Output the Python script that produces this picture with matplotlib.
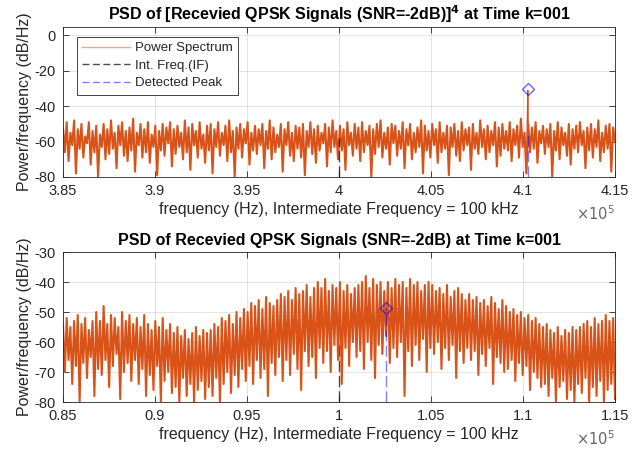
"""
Two-panel PSD view of a received QPSK signal (SNR = -2 dB) at time k = 001:
top is the spectrum of the signal raised to the 4th power, bottom is the raw one.
"""

import numpy as np
import matplotlib.pyplot as plt
from matplotlib.lines import Line2D
from matplotlib.ticker import FuncFormatter, MultipleLocator

plt.rcParams["font.family"] = ["Liberation Sans", "DejaVu Sans"]
plt.rcParams["axes.unicode_minus"] = False

# ── Data ─────────────────────────────────────────────────────────────────────

# PSD of [signal]^4, 3.85e5 .. 4.15e5 Hz, dB/Hz
TOP_DB = [
    -52, -66, -49, -71, -55, -62, -48, -78, -53, -64, -50, -69, -57, -61, -49, -73, -54, -66, -51, -80,
    -56, -63, -50, -70, -53, -67, -48, -64, -55, -75, -51, -62, -49, -68, -54, -71, -52, -65, -47, -77,
    -55, -62, -50, -69, -53, -66, -49, -72, -56, -63, -51, -79, -54, -65, -50, -68, -52, -61, -49, -74,
    -53, -67, -51, -63, -55, -70, -48, -66, -52, -76, -50, -62, -54, -69, -49, -64, -56, -72, -51, -65,
    -50, -78, -53, -63, -49, -68, -55, -62, -51, -71, -48, -66, -54, -80, -52, -64, -50, -69, -53, -61,
    -49, -73, -55, -65, -51, -67, -53, -62, -50, -75, -54, -64, -48, -70, -52, -66, -56, -63, -50, -77,
    -53, -62, -49, -68, -55, -71, -51, -64, -52, -69, -50, -79, -54, -63, -49, -67, -53, -72, -51, -65,
    -55, -61, -50, -74, -52, -66, -48, -63, -54, -70, -51, -65, -53, -76, -49, -62, -55, -68, -50, -64,
    -52, -71, -49, -66, -54, -62, -51, -80, -53, -67, -50, -63, -48, -69, -55, -64, -52, -73, -50, -61,
    -51, -68, -54, -64, -49, -75, -53, -62, -50, -70, -55, -66, -52, -63, -48, -78, -51, -65, -54, -69,
    -50, -62, -53, -72, -49, -66, -55, -64, -51, -79, -52, -63, -50, -68, -54, -71, -49, -65, -53, -62,
    -52, -76, -50, -64, -55, -67, -48, -63, -53, -70, -51, -66, -54, -62, -49, -74, -52, -68, -50, -64,
    -54, -65, -49, -71, -53, -62, -51, -69, -47, -63, -55, -78, -50, -66, -52, -64, -49, -72, -54, -61,
    -51, -67, -53, -63, -50, -80, -54, -65, -49, -70, -52, -62, -55, -68, -50, -73, -53, -64, -51, -66,
    -49, -62, -54, -75, -52, -65, -50, -69, -53, -63, -48, -71, -55, -66, -51, -64, -50, -77, -52, -60,
]
TOP_F0, TOP_F1 = 3.85e5, 4.15e5
TOP_SPIKE_F, TOP_SPIKE_DB = 4.1026e5, -31.0     # the 4x carrier line
TOP_IF_F, TOP_IF_TOP = 4.0e5, -58.0
TOP_PEAK_F, TOP_PEAK_DB = 4.1026e5, -30.5
TOP_PEAK_LINE_TOP = -54.0

# PSD of the received signal, 0.85e5 .. 1.15e5 Hz, dB/Hz
BOT_DB = [
    -54, -70, -52, -66, -55, -74, -53, -68, -51, -80, -54, -67, -52, -72, -56, -65, -53, -78, -50, -69,
    -53, -71, -48, -66, -54, -75, -51, -68, -52, -64, -55, -79, -50, -70, -53, -67, -51, -73, -54, -66,
    -52, -74, -55, -69, -51, -78, -54, -71, -56, -76, -53, -68, -55, -80, -52, -73, -56, -70, -54, -77,
    -57, -75, -55, -80, -58, -72, -56, -78, -59, -74, -57, -80, -55, -76, -58, -73, -56, -79, -57, -75,
    -56, -78, -54, -72, -55, -80, -52, -74, -53, -70, -51, -77, -54, -71, -50, -75, -52, -69, -49, -73,
    -50, -68, -47, -74, -48, -66, -46, -72, -49, -69, -45, -78, -47, -67, -48, -71, -46, -65, -44, -73,
    -45, -66, -43, -71, -46, -64, -42, -69, -44, -76, -43, -63, -41, -68, -45, -65, -42, -72, -40, -62,
    -42, -67, -39, -63, -43, -70, -41, -61, -42, -66, -40, -74, -43, -62, -41, -68, -44, -60, -42, -65,
    -41, -63, -40, -69, -38, -60, -42, -66, -39, -72, -41, -61, -40, -64, -43, -58, -40, -67, -42, -62,
    -39, -65, -41, -60, -40, -78, -42, -63, -39, -68, -41, -61, -40, -66, -43, -59, -41, -70, -40, -62,
    -41, -64, -43, -60, -42, -69, -44, -62, -41, -66, -45, -61, -43, -72, -42, -63, -44, -67, -46, -62,
    -44, -66, -46, -63, -45, -71, -47, -64, -46, -68, -48, -62, -45, -74, -47, -65, -49, -67, -46, -70,
    -48, -69, -50, -66, -49, -73, -51, -67, -50, -71, -52, -68, -51, -76, -53, -70, -52, -72, -54, -75,
    -55, -74, -54, -78, -56, -72, -57, -80, -55, -75, -58, -73, -56, -79, -57, -76, -55, -80, -56, -74,
    -55, -77, -54, -72, -53, -80, -55, -75, -52, -78, -54, -73, -53, -80, -51, -76, -53, -74, -52, -79,
]
BOT_F0, BOT_F1 = 0.85e5, 1.15e5
BOT_IF_F, BOT_IF_TOP = 1.0e5, -60.0
BOT_PEAK_F, BOT_PEAK_DB = 1.0256e5, -48.6
BOT_PEAK_LINE_TOP = -48.6

TITLE_TOP = r"PSD of [Recevied QPSK Signals (SNR=-2dB)]$^\mathbf{4}$ at Time k=001"
TITLE_BOT = "PSD of Recevied QPSK Signals (SNR=-2dB) at Time k=001"
XLABEL = "frequency (Hz), Intermediate Frequency = 100 kHz"
YLABEL = "Power/frequency (dB/Hz)"

# ── Style ────────────────────────────────────────────────────────────────────

ORANGE = "#D95319"
INK = "#262626"
DASH = (0, (8, 3))
LW_SPEC = 1.5

fmt = FuncFormatter(lambda v, _: f"{v / 1e5:g}")


def style_axes(ax, f0, f1, ylim, ystep, title):
    ax.set_xlim(f0, f1)
    ax.set_ylim(*ylim)
    ax.xaxis.set_major_locator(MultipleLocator(0.05e5))
    ax.yaxis.set_major_locator(MultipleLocator(ystep))
    ax.xaxis.set_major_formatter(fmt)
    ax.grid(True, color="#000000", alpha=0.12, linewidth=0.6)
    ax.set_axisbelow(True)
    ax.tick_params(direction="in", top=True, right=True, length=4,
                   width=0.6, colors=INK, labelsize=10.5, pad=5)
    for s in ax.spines.values():
        s.set_color(INK)
        s.set_linewidth(0.6)
    ax.set_title(title, fontsize=11.5, fontweight="bold", color="black", pad=5)
    ax.set_xlabel(XLABEL, fontsize=11.5, color=INK, labelpad=3)
    ax.set_ylabel(YLABEL, fontsize=11.5, color=INK, labelpad=2)
    ax.text(1.0, -0.245, r"$\times10^{5}$", transform=ax.transAxes,
            ha="right", va="center", fontsize=10.5, color="#666666")


fig = plt.figure(figsize=(6.41, 4.54), dpi=100)
ax1 = fig.add_axes([63 / 641, 1 - 177 / 454, 552 / 641, 150 / 454])
ax2 = fig.add_axes([63 / 641, 1 - 402 / 454, 552 / 641, 150 / 454])

# ── Top: [signal]^4 ──────────────────────────────────────────────────────────

f_top = np.linspace(TOP_F0, TOP_F1, len(TOP_DB))
db_top = np.array(TOP_DB, dtype=float)
k = np.searchsorted(f_top, TOP_SPIKE_F)

# noise floor drawn thick so the dense trace reads as a band; the carrier
# line itself is drawn thin from its two neighbours
ax1.plot(f_top, db_top, color=ORANGE, linewidth=LW_SPEC, zorder=2)
ax1.plot([f_top[k - 1], TOP_SPIKE_F, f_top[k]],
         [db_top[k - 1], TOP_SPIKE_DB, db_top[k]],
         color=ORANGE, linewidth=0.9, zorder=2)
ax1.plot([TOP_IF_F, TOP_IF_F], [-80, TOP_IF_TOP], color="black", alpha=0.7,
         linewidth=1.0, linestyle=DASH, zorder=3)
ax1.plot([TOP_PEAK_F, TOP_PEAK_F], [-80, TOP_PEAK_LINE_TOP], color="blue",
         alpha=0.5, linewidth=1.0, linestyle=DASH, zorder=3)
ax1.plot(TOP_PEAK_F, TOP_PEAK_DB, marker="D", markersize=6, mfc="none",
         mec="blue", mew=1.0, alpha=0.6, zorder=4)
style_axes(ax1, TOP_F0, TOP_F1, (-80, 4.8), 20, TITLE_TOP)

handles = [
    Line2D([], [], color=ORANGE, alpha=0.5, linewidth=1.0),
    Line2D([], [], color="black", alpha=0.7, linewidth=1.0, linestyle=(0, (5, 2.5))),
    Line2D([], [], color="blue", alpha=0.5, linewidth=1.0, linestyle=(0, (5, 2.5))),
]
leg = ax1.legend(handles, ["Power Spectrum", "Int. Freq.(IF)", "Detected Peak"],
                 loc="upper left", bbox_to_anchor=(0.025, 0.935), fontsize=9.5,
                 handlelength=3.6, handletextpad=0.4, borderpad=0.4,
                 labelspacing=0.4, fancybox=False, framealpha=1,
                 edgecolor=INK, borderaxespad=0)
leg.get_frame().set_linewidth(0.6)
for t in leg.get_texts():
    t.set_color(INK)

# ── Bottom: received signal ──────────────────────────────────────────────────

f_bot = np.linspace(BOT_F0, BOT_F1, len(BOT_DB))
ax2.plot(f_bot, BOT_DB, color=ORANGE, linewidth=LW_SPEC, zorder=2)
ax2.plot([BOT_IF_F, BOT_IF_F], [-80, BOT_IF_TOP], color="black", alpha=0.7,
         linewidth=1.0, linestyle=DASH, zorder=1.5)
ax2.plot([BOT_PEAK_F, BOT_PEAK_F], [-80, BOT_PEAK_LINE_TOP], color="blue",
         alpha=0.5, linewidth=1.0, linestyle=DASH, zorder=3)
ax2.plot(BOT_PEAK_F, BOT_PEAK_DB, marker="D", markersize=6, mfc="none",
         mec="blue", mew=1.0, alpha=0.6, zorder=4)
style_axes(ax2, BOT_F0, BOT_F1, (-80, -30), 10, TITLE_BOT)

fig.savefig("out.png", dpi=100)
